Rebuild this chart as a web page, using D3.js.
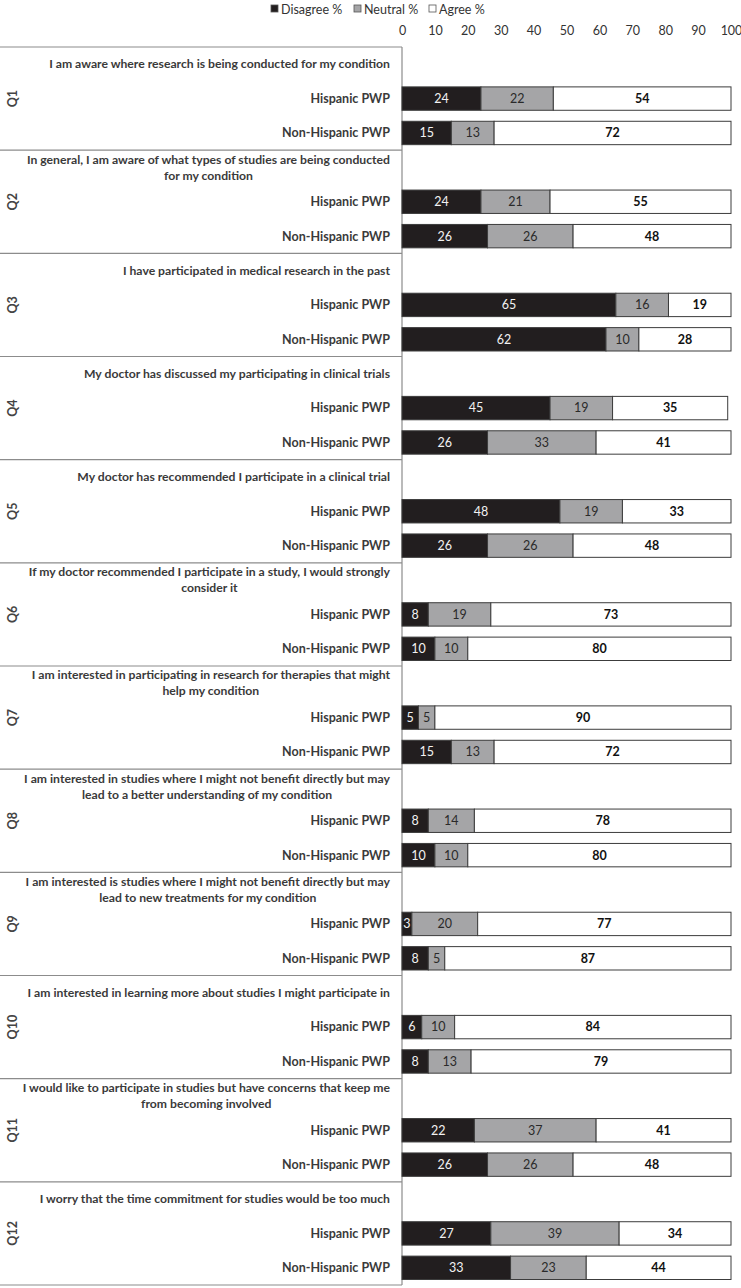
<!DOCTYPE html>
<html>
<head>
<meta charset="utf-8">
<script src="https://cdn.jsdelivr.net/npm/d3@7"></script>
<style>
  body { margin: 0; background: #fff; }
  svg { display: block; font-family: Lato, "Liberation Sans", sans-serif; }
</style>
</head>
<body>
<div id="chart"></div>
<script>
// survey data, percent per response
var questions = ['Q1', 'Q2', 'Q3', 'Q4', 'Q5', 'Q6', 'Q7', 'Q8', 'Q9', 'Q10', 'Q11', 'Q12'];
var questionText = [
    ['I am aware where research is being conducted for my condition'],
    ['In general, I am aware of what types of studies are being conducted', 'for my condition'],
    ['I have participated in medical research in the past'],
    ['My doctor has discussed my participating in clinical trials'],
    ['My doctor has recommended I participate in a clinical trial'],
    ['If my doctor recommended I participate in a study, I would strongly', 'consider it'],
    ['I am interested in participating in research for therapies that might', 'help my condition'],
    ['I am interested in studies where I might not benefit directly but may', 'lead to a better understanding of my condition'],
    ['I am interested is studies where I might not benefit directly but may', 'lead to new treatments for my condition'],
    ['I am interested in learning more about studies I might participate in'],
    ['I would like to participate in studies but have concerns that keep me', 'from becoming involved'],
    ['I worry that the time commitment for studies would be too much']
];
var groups = ['Hispanic PWP', 'Non-Hispanic PWP'];
var seriesNames = ['Disagree %', 'Neutral %', 'Agree %'];

var hispDisagree = [24, 24, 65, 45, 48, 8, 5, 8, 3, 6, 22, 27];
var hispNeutral  = [22, 21, 16, 19, 19, 19, 5, 14, 20, 10, 37, 39];
var hispAgree    = [54, 55, 19, 35, 33, 73, 90, 78, 77, 84, 41, 34];

var nonDisagree = [15, 26, 62, 26, 26, 10, 15, 10, 8, 8, 26, 33];
var nonNeutral  = [13, 26, 10, 33, 26, 10, 13, 10, 5, 13, 26, 23];
var nonAgree    = [72, 48, 28, 41, 48, 80, 72, 80, 87, 79, 48, 44];

var ticks = [0, 10, 20, 30, 40, 50, 60, 70, 80, 90, 100];

var width = 741, height = 1288;
var fills = ['#221e1f', '#a5a5a7', '#ffffff'];
var labelColors = ['#f2f2f2', '#2a2a2a', '#111111'];
var labelWeights = ['normal', 'normal', 'bold'];

var svg = d3.select('#chart').append('svg')
    .attr('width', width)
    .attr('height', height);

var x = d3.scaleLinear().domain([0, 100]).range([402, 731]);

var yq = d3.scaleBand().domain(questions).range([47, 1285]).padding(0);
var rows = ['text'].concat(groups);
var yr = d3.scaleBand().domain(rows).range([0, yq.bandwidth()])
    .paddingInner(0.32).paddingOuter(0.16);

// build rows of stacked data
var data = [];
questions.forEach(function(q, i) {
    data.push({q: q, g: groups[0], vals: [hispDisagree[i], hispNeutral[i], hispAgree[i]]});
    data.push({q: q, g: groups[1], vals: [nonDisagree[i], nonNeutral[i], nonAgree[i]]});
});
data.forEach(function(d) {
    var acc = 0;
    d.segs = d.vals.map(function(v, k) {
        var s = {k: k, v: v, x0: acc, x1: acc + v};
        acc += v;
        return s;
    });
});

// legend
var legend = svg.append('g').attr('font-size', 12.5).attr('fill', '#333');
var legX = [271, 354, 429];
seriesNames.forEach(function(name, k) {
    legend.append('rect')
        .attr('x', legX[k]).attr('y', 5)
        .attr('width', 7).attr('height', 7)
        .attr('fill', fills[k])
        .attr('stroke', '#555').attr('stroke-width', 0.8);
    legend.append('text')
        .attr('x', legX[k] + 10).attr('y', 13.5)
        .text(name);
});

// top axis, labels only
var axis = d3.axisTop(x).tickValues(ticks).tickSize(0).tickPadding(0);
var ax = svg.append('g')
    .attr('transform', 'translate(0,35)')
    .call(axis);
ax.select('.domain').remove();
ax.selectAll('text')
    .attr('font-family', 'Lato, sans-serif')
    .attr('font-size', 12.5)
    .attr('fill', '#333');

// left panel lines
var lines = svg.append('g').attr('stroke', '#8c8c8c').attr('stroke-width', 1.2);
questions.forEach(function(q) {
    lines.append('line')
        .attr('x1', 0).attr('x2', 402)
        .attr('y1', yq(q)).attr('y2', yq(q));
});
lines.append('line')
    .attr('x1', 0).attr('x2', 402)
    .attr('y1', yq.range()[1]).attr('y2', yq.range()[1]);
lines.append('line')
    .attr('x1', 402).attr('x2', 402)
    .attr('y1', yq.range()[0]).attr('y2', yq.range()[1]);

// question labels (rotated)
svg.append('g').selectAll('text')
    .data(questions)
    .enter().append('text')
        .attr('transform', function(q) {
            return 'translate(17,' + (yq(q) + yq.bandwidth() / 2) + ') rotate(-90)';
        })
        .attr('text-anchor', 'middle')
        .attr('font-size', 12.5)
        .attr('font-weight', 'bold')
        .attr('fill', '#444')
        .text(function(q) { return q; });

// question text, right aligned block with centered lines
var qt = svg.append('g')
    .attr('font-size', 12.2)
    .attr('font-weight', 'bold')
    .attr('fill', '#3a3a3a');
questions.forEach(function(q, i) {
    var linesTxt = questionText[i];
    var cy = yq(q) + yr('text') + yr.bandwidth() / 2;
    var g = qt.append('g');
    var tx = g.selectAll('text').data(linesTxt).enter().append('text')
        .attr('y', function(d, j) { return cy + (j - (linesTxt.length - 1) / 2) * 16; })
        .attr('dy', '0.35em')
        .text(function(d) { return d; });
    var maxW = 0;
    tx.each(function() { maxW = Math.max(maxW, this.getComputedTextLength()); });
    tx.attr('x', 390 - maxW / 2).attr('text-anchor', 'middle');
});

// group labels
svg.append('g').selectAll('text')
    .data(data)
    .enter().append('text')
        .attr('x', 390)
        .attr('y', function(d) { return yq(d.q) + yr(d.g) + yr.bandwidth() / 2; })
        .attr('dy', '0.35em')
        .attr('text-anchor', 'end')
        .attr('font-size', 12.5)
        .attr('font-weight', 'bold')
        .attr('fill', '#3a3a3a')
        .text(function(d) { return d.g; });

// bars
var bar = svg.append('g').selectAll('g')
    .data(data)
    .enter().append('g')
        .attr('transform', function(d) { return 'translate(0,' + (yq(d.q) + yr(d.g)) + ')'; });

bar.selectAll('rect')
    .data(function(d) { return d.segs; })
    .enter().append('rect')
        .attr('x', function(s) { return x(s.x0); })
        .attr('width', function(s) { return x(s.x1) - x(s.x0); })
        .attr('height', yr.bandwidth())
        .attr('fill', function(s) { return fills[s.k]; })
        .attr('stroke', '#3c3c3c')
        .attr('stroke-width', 1);

bar.selectAll('text')
    .data(function(d) { return d.segs; })
    .enter().append('text')
        .attr('x', function(s) { return (x(s.x0) + x(s.x1)) / 2; })
        .attr('y', yr.bandwidth() / 2)
        .attr('dy', '0.35em')
        .attr('text-anchor', 'middle')
        .attr('font-size', 12.5)
        .attr('font-weight', function(s) { return labelWeights[s.k]; })
        .attr('fill', function(s) { return labelColors[s.k]; })
        .text(function(s) { return s.v; });
</script>
</body>
</html>
